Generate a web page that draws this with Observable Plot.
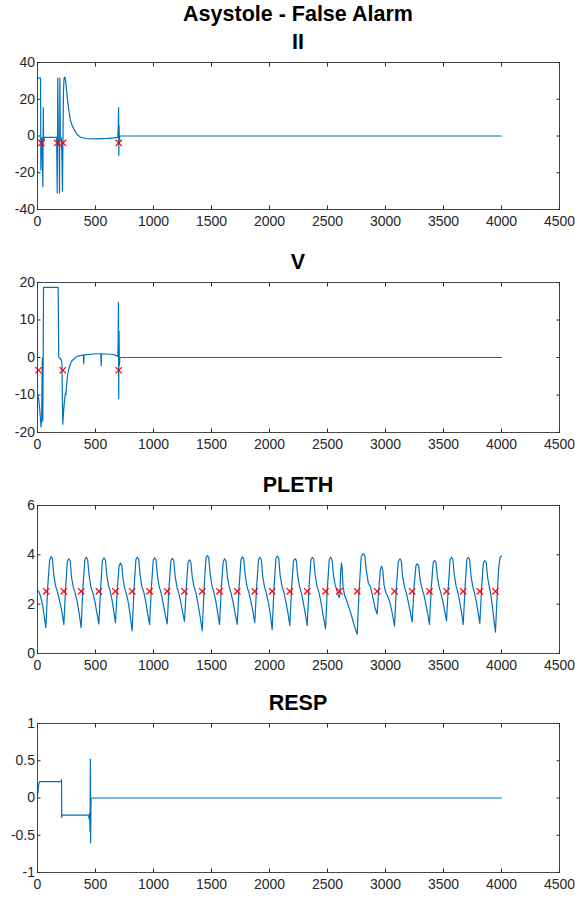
<!DOCTYPE html>
<html><head><meta charset="utf-8">
<script src="https://cdn.jsdelivr.net/npm/d3@7"></script>
<script src="https://cdn.jsdelivr.net/npm/@observablehq/plot@0.6"></script>
<style>
body{margin:0;background:#fff;}
#wrap{position:relative;width:575px;height:897px;overflow:hidden;background:#fff;}
.t{position:absolute;left:0;width:596px;text-align:center;font-weight:bold;font-family:"Liberation Sans",Arial,Helvetica,sans-serif;font-size:21.5px;line-height:21.5px;color:#000;white-space:nowrap}
.p{position:absolute;left:0}
</style></head><body><div id="wrap"></div>
<script>
// ---------- data ----------
const mainTitle = "Asystole - False Alarm";
const panelTitles = ["II", "V", "PLETH", "RESP"];
const xTicks = [0, 500, 1000, 1500, 2000, 2500, 3000, 3500, 4000, 4500];
const yTicksII = [-40, -20, 0, 20, 40];
const yTicksV = [-20, -10, 0, 10, 20];
const yTicksPLETH = [0, 2, 4, 6];
const yTicksRESP = [-1, -0.5, 0, 0.5, 1];

const signalII = [[0,31.5],[26,31.5],[29,-18.5],[33,-3],[37,-1],[41,-10],[46,-27.5],[50,15.5],[53,-3],[58,-0.8],
  [165,-0.8],[170,-31],[175,31.5],[180,-5],[186,-2],[190,-31],[193,31.5],[197,-1],[206,-1],[211,-13],[215,-30],
  [219,-6],[224,25],[229,31.5],[236,32],[243,30],[256,21],[270,14],[284,8.4],[300,5.5],[313,3.9],[342,0.8],
  [371,-0.7],[428,-1.5],[514,-1.6],[600,-1.3],[660,-1.0],[692,-0.8],[696,5],[699,15.5],[701,-10.5],[703,6],
  [706,-4],[709,0],[4000,0]];
const markII_x = [34, 170, 220, 700];
const markII_y = [-3.8, -3.8, -3.8, -3.8];

const signalV = [[0,-10],[10,-11],[20,-14],[30,-18.5],[36,-16],[41,-1],[44,0],[46,-17],[49,0],[52,18.7],
  [178,18.7],[183,0.3],[186,0],[205,-0.6],[210,-1.5],[218,-17.8],[227,-13.5],[236,-10.5],[241,-9.5],[245,-10],
  [250,-7.5],[258,-5],[270,-3],[285,-1.6],[299,-0.8],[320,-0.2],[342,0.3],[396,0.7],[399,-1.7],[402,0.7],
  [514,1.0],[546,1.0],[549,-2.2],[552,1.0],[658,0.8],[692,0.3],[695,3],[698,14.7],[700,-11],[703,7],[706,-2],
  [710,0],[4000,0]];
const markV_x = [8, 218, 700];
const markV_y = [-3.4, -3.4, -3.4];

const signalPLETH = [[0,2.55],[12,2.5],[28,2.3],[45,1.95],[58,1.5],
  [72,1.05],[88,2.7],[105,3.8],[118,3.93],[128,3.85],[140,3.2],[155,2.75],[172,2.5],[190,2.15],[210,1.7],
  [227,1.18],[243,2.7],[258,3.75],[270,3.84],[282,3.75],[293,3.1],[308,2.7],[325,2.45],[342,2.1],[360,1.6],
  [376,1.05],[392,2.7],[408,3.8],[420,3.9],[432,3.82],[444,3.2],[460,2.7],[478,2.45],[495,2.1],[512,1.65],
  [529,1.2],[545,2.7],[560,3.78],[573,3.88],[585,3.8],[597,3.2],[612,2.75],[628,2.5],[645,2.1],[658,1.7],
  [672,1.25],[688,2.6],[703,3.55],[715,3.67],[727,3.55],[738,3.0],[752,2.65],[768,2.4],[785,2.0],[800,1.5],
  [816,0.92],[832,2.6],[848,3.8],[860,3.9],[872,3.82],[884,3.2],[900,2.7],[916,2.5],[933,2.1],[950,1.6],
  [966,1.18],[982,2.7],[998,3.78],[1010,3.88],[1022,3.8],[1034,3.15],[1050,2.7],[1066,2.45],[1083,2.05],[1100,1.6],
  [1118,1.2],[1134,2.7],[1150,3.75],[1162,3.86],[1174,3.78],[1186,3.15],[1202,2.7],[1218,2.45],[1234,2.1],[1250,1.7],
  [1267,1.3],[1283,2.7],[1298,3.7],[1310,3.8],[1322,3.7],[1334,3.1],[1350,2.7],[1366,2.45],[1384,2.0],[1402,1.5],
  [1420,0.92],[1436,2.6],[1452,3.85],[1464,3.97],[1476,3.9],[1488,3.25],[1504,2.75],[1520,2.5],[1538,2.1],[1555,1.6],
  [1569,1.18],[1585,2.7],[1601,3.72],[1613,3.84],[1625,3.76],[1637,3.1],[1653,2.7],[1669,2.45],[1687,2.05],[1705,1.6],
  [1722,1.18],[1738,2.7],[1754,3.8],[1766,3.92],[1778,3.84],[1790,3.2],[1806,2.72],[1822,2.48],[1840,2.1],[1857,1.7],
  [1873,1.25],[1889,2.7],[1905,3.8],[1917,3.9],[1929,3.8],[1941,3.15],[1957,2.7],[1973,2.45],[1991,2.05],[2008,1.55],
  [2023,0.97],[2039,2.65],[2055,3.85],[2067,3.95],[2079,3.88],[2091,3.2],[2107,2.75],[2123,2.5],[2141,2.1],[2159,1.65],
  [2175,1.14],[2191,2.7],[2207,3.75],[2219,3.84],[2231,3.78],[2243,3.15],[2259,2.7],[2275,2.45],[2292,2.05],[2309,1.6],
  [2325,1.14],[2341,2.7],[2357,3.8],[2369,3.9],[2381,3.82],[2393,3.2],[2409,2.75],[2425,2.5],[2443,2.1],[2462,1.55],
  [2483,1.0],[2499,2.65],[2515,3.8],[2527,3.9],[2539,3.8],[2551,3.2],[2565,2.8],[2578,2.6],[2590,2.4],[2600,2.27],
  [2606,2.35],[2614,3.3],[2620,3.67],[2626,3.5],[2634,2.7],[2648,2.35],[2665,2.15],[2690,1.8],[2715,1.4],[2740,1.0],
  [2756,0.78],[2772,2.5],[2790,3.9],[2805,4.04],[2820,4.0],[2834,3.4],[2852,2.85],[2871,2.7],[2890,2.3],[2910,1.85],
  [2928,1.6],[2942,2.6],[2956,3.4],[2966,3.54],[2976,3.4],[2988,2.75],[3004,2.45],[3022,2.3],[3042,2.0],[3060,1.6],
  [3078,1.12],[3094,2.7],[3110,3.72],[3124,3.84],[3136,3.76],[3148,3.1],[3164,2.7],[3180,2.45],[3198,2.05],[3215,1.65],
  [3230,1.28],[3246,2.7],[3262,3.55],[3274,3.63],[3286,3.55],[3298,3.0],[3314,2.65],[3330,2.4],[3348,2.0],[3364,1.6],
  [3379,1.18],[3395,2.7],[3411,3.68],[3423,3.77],[3435,3.7],[3447,3.1],[3462,2.7],[3478,2.45],[3495,2.1],[3511,1.7],
  [3526,1.32],[3542,2.75],[3557,3.8],[3569,3.9],[3581,3.82],[3593,3.2],[3608,2.75],[3623,2.5],[3640,2.1],[3656,1.65],
  [3670,1.18],[3686,2.7],[3701,3.8],[3713,3.9],[3725,3.82],[3737,3.15],[3752,2.72],[3767,2.45],[3783,2.1],[3799,1.65],
  [3813,1.22],[3829,2.7],[3844,3.68],[3856,3.77],[3868,3.68],[3880,3.1],[3895,2.7],[3908,2.4],[3922,1.9],[3936,1.3],
  [3948,0.87],[3962,2.3],[3976,3.5],[3988,3.9],[4000,3.95]];
const markPLETH_x = [75,227,376,529,672,816,966,1118,1267,1420,1569,1722,1873,2023,2175,2325,2483,2603,2756,2928,3078,3230,3379,3526,3670,3813,3948];
const markPLETH_y = [2.52,2.52,2.52,2.52,2.52,2.52,2.52,2.52,2.52,2.52,2.52,2.52,2.52,2.52,2.52,2.52,2.52,2.52,2.52,2.52,2.52,2.52,2.52,2.52,2.52,2.52,2.52];

const signalRESP = [[0,0.03],[5,0.1],[12,0.2],[20,0.22],[205,0.22],[207,0.25],[209,-0.26],[212,-0.23],
  [440,-0.23],[445,-0.28],[450,-0.2],[453,-0.45],[456,0.52],[458,-0.6],[461,-0.1],[463,0],[4000,0]];
const markRESP_x = [];
const markRESP_y = [];

// ---------- layout ----------
const wrap = document.getElementById("wrap");
function addTitle(text, top) {
  const d = document.createElement("div");
  d.className = "t"; d.style.top = top + "px"; d.textContent = text;
  wrap.appendChild(d);
}
const FONT = '"Liberation Sans",Arial,Helvetica,sans-serif';
const BLUE = "#0072BD";
function panel(sig, mx, my, ydom, yticks, plotTop, plotH) {
  const mt = 4, mb = 30;
  const marks = mx.map((x, i) => ({x, y: my[i]}));
  const svg = Plot.plot({
    width: 575, height: plotH + mt + mb,
    marginTop: mt, marginBottom: mb, marginLeft: 37, marginRight: 16,
    style: {fontFamily: FONT, fontSize: "14px", color: "#262626", background: "transparent", overflow: "visible"},
    x: {domain: [0, 4500]},
    y: {domain: ydom},
    marks: [
      Plot.axisX(xTicks, {anchor: "bottom", tickSize: -3.5, tickPadding: 10, tickFormat: d => String(d), label: null}),
      Plot.axisX(xTicks, {anchor: "top", tickSize: -3.5, tickFormat: () => "", label: null}),
      Plot.axisY(yticks, {anchor: "left", tickSize: -3.5, tickPadding: 6, tickFormat: d => String(d), label: null}),
      Plot.axisY(yticks, {anchor: "right", tickSize: -3.5, tickFormat: () => "", label: null}),
      Plot.line(sig, {x: d => d[0], y: d => d[1], stroke: BLUE, strokeWidth: 1.2}),
      Plot.dot(marks, {x: "x", y: "y", symbol: "times", r: 3, stroke: "#FF0000", strokeWidth: 1.2}),
      Plot.frame({stroke: "#333", strokeWidth: 0.9})
    ]
  });
  svg.classList.add("p");
  svg.style.top = (plotTop - mt) + "px";
  wrap.appendChild(svg);
}

addTitle(mainTitle, 4);
addTitle(panelTitles[0], 32);
panel(signalII, markII_x, markII_y, [-40, 40], yTicksII, 62, 147);
addTitle(panelTitles[1], 252);
panel(signalV, markV_x, markV_y, [-20, 20], yTicksV, 282, 150);
addTitle(panelTitles[2], 475);
panel(signalPLETH, markPLETH_x, markPLETH_y, [0, 6], yTicksPLETH, 505, 148);
addTitle(panelTitles[3], 693);
panel(signalRESP, markRESP_x, markRESP_y, [-1, 1], yTicksRESP, 723, 149);
</script>
</body></html>
